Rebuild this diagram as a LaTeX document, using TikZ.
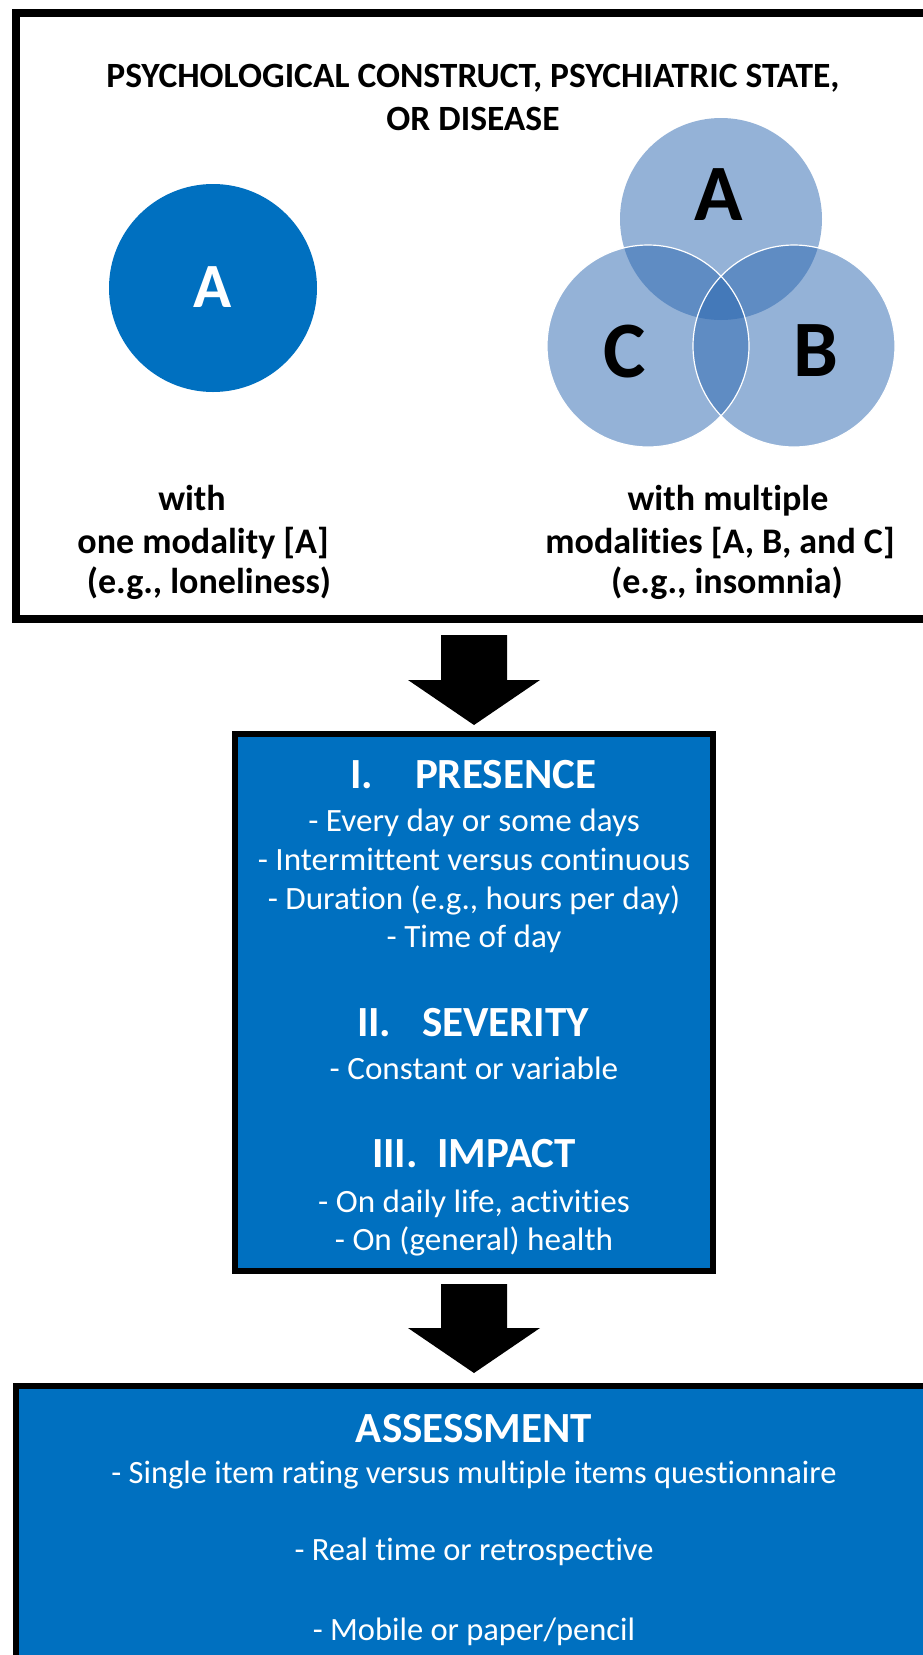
\documentclass[tikz,border=0pt]{standalone}
\usepackage{fontspec}
\setmainfont{Carlito}[Ligatures=NoCommon]
\newfontfamily\widebody{Carlito}[Ligatures=NoCommon,FakeStretch=1.02]
\usetikzlibrary{calc}
\definecolor{boxblue}{RGB}{0,112,192}
\definecolor{venncore}{RGB}{43,103,177}
\begin{document}
\begin{tikzpicture}[x=1pt,y=-1pt,
  txt/.style={anchor=base,inner sep=0pt,outer sep=0pt},
  blk/.style={txt,text=black},
  wht/.style={txt,text=white},
  lbl/.style={blk,font=\bfseries\fontsize{36}{40}\selectfont},
  hd/.style={txt,anchor=base west,text=white,font=\bfseries\fontsize{43}{48}\selectfont},
  body/.style={wht,font=\widebody\fontsize{32.5}{38}\selectfont},
  abody/.style={wht,font=\fontsize{32.5}{38}\selectfont},
  vennletter/.style={blk,font=\bfseries\fontsize{80}{84}\selectfont},
  frame/.style={draw=black,rectangle,inner sep=0pt},
  blockarrow/.style={fill=black},
  venn/.style={circle,fill=venncore,fill opacity=0.5,inner sep=0pt,minimum size=202pt},
]
\useasboundingbox (0,0) rectangle (923,1655);
\clip (0,0) rectangle (923,1655);
\fill[white] (0,0) rectangle (923,1655);

% top box
\node[frame,line width=8pt,minimum width=914pt,minimum height=606pt] (top) at (473,316) {};
\node[blk,font=\bfseries\fontsize{35.5}{40}\selectfont] (t1) at (473,87) {PSYCHOLOGICAL CONSTRUCT, PSYCHIATRIC STATE,};
\node[blk,font=\bfseries\fontsize{35.5}{40}\selectfont] (t2) at (473,130) {OR DISEASE};

% single modality circle
\node[circle,fill=boxblue,inner sep=0pt,minimum size=208pt] (one) at (213,288) {};
\node[wht,font=\bfseries\fontsize{63}{66}\selectfont] (oneA) at (213,307) {A};

% Venn
\node[venn] (va) at (721,219) {};
\node[venn] (vb) at (794,346) {};
\node[venn] (vc) at (648,346) {};
\draw[white,line width=1.2pt] (vb.center) circle[radius=101pt];
\draw[white,line width=1.2pt] (vc.center) circle[radius=101pt];
\node[vennletter] (la) at (719,220) {A};
\node[vennletter] (lc) at (625,377) {C};
\node[vennletter] (lb) at (816,376) {B};

% labels
\node[lbl] (l1) at (192,510) {with};
\node[lbl] (l2) at (203,553) {one modality [A]};
\node[lbl] (l3) at (209,593) {(e.g., loneliness)};
\node[lbl] (r1) at (728,510) {with multiple};
\node[lbl] (r2) at (720,553) {modalities [A, B, and C]};
\node[lbl] (r3) at (727,593) {(e.g., insomnia)};

% middle box
\node[frame,line width=6pt,fill=boxblue,minimum width=478pt,minimum height=537pt] (mid) at (474,1002.5) {};
\node[hd] (h1n) at (350,788) {I.};
\node[hd] (h1) at (415,788) {PRESENCE};
\node[body] (b1) at (474,831) {- Every day or some days};
\node[body] (b2) at (474,870) {- Intermittent versus continuous};
\node[body] (b3) at (474,909) {- Duration (e.g., hours per day)};
\node[body] (b4) at (474,947) {- Time of day};
\node[hd] (h2n) at (357,1036) {II.};
\node[hd] (h2) at (422,1036) {SEVERITY};
\node[body] (b5) at (474,1079) {- Constant or variable};
\node[hd] (h3n) at (372,1167) {III.};
\node[hd] (h3) at (437,1167) {IMPACT};
\node[body] (b6) at (474,1212) {- On daily life, activities};
\node[body] (b7) at (474,1250) {- On (general) health};

% bottom box
\node[frame,line width=6pt,fill=boxblue,minimum width=916pt,minimum height=300pt] (bot) at (474,1536) {};
\node[wht,font=\bfseries\fontsize{43}{48}\selectfont] (ah) at (474,1442) {ASSESSMENT};
\node[abody] (a1) at (474,1483) {- Single item rating versus multiple items questionnaire};
\node[abody] (a2) at (474,1560) {- Real time or retrospective};
\node[abody] (a3) at (474,1640) {- Mobile or paper/pencil};

% block arrows
\fill[blockarrow] let \p1=(top.south), \p2=(mid.north) in
  ($(\x2,\y1)+(-33,12)$) -- ($(\x2,\y1)+(33,12)$) -- ($(\x2,\y1)+(33,57)$) --
  ($(\x2,\y1)+(66,57)$) -- ($(\x2,\y2)+(0,-6)$) -- ($(\x2,\y1)+(-66,57)$) --
  ($(\x2,\y1)+(-33,57)$) -- cycle;
\fill[blockarrow] let \p1=(mid.south), \p2=(bot.north) in
  ($(\x2,\y1)+(-33,10)$) -- ($(\x2,\y1)+(33,10)$) -- ($(\x2,\y1)+(33,54)$) --
  ($(\x2,\y1)+(66,54)$) -- ($(\x2,\y2)+(0,-10)$) -- ($(\x2,\y1)+(-66,54)$) --
  ($(\x2,\y1)+(-33,54)$) -- cycle;
\end{tikzpicture}
\end{document}
